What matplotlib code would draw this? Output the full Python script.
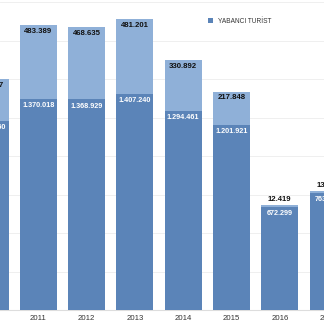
import matplotlib
matplotlib.use("Agg")
import matplotlib.pyplot as plt
import numpy as np

plt.rcParams['font.family'] = ['Liberation Sans', 'DejaVu Sans']

# veri (2010 ve 2017 kismen gorunuyor)
years = ['2010', '2011', '2012', '2013', '2014', '2015', '2016', '2017']
dark_vals = [1228560, 1370018, 1368929, 1407240, 1294461, 1201921, 672299, 763521]
light_vals = [272717, 483389, 468635, 481201, 330892, 217848, 12419, 13000]
legend_label = 'YABANCI TURİST'

DARK = '#5b84b8'
LIGHT = '#8fb0d8'

def fmt(v):
    return f"{v:,}".replace(',', '.')

fig = plt.figure(figsize=(3.24, 3.33), dpi=100)
ax = fig.add_axes([0, 0, 1, 1])

x = np.arange(len(years))
w = 0.766
b1 = ax.bar(x, dark_vals, width=w, color=DARK, zorder=2)
b2 = ax.bar(x, light_vals, width=w, bottom=dark_vals, color=LIGHT, zorder=2)

# grid
for g in np.arange(250000, 2000001, 250000):
    ax.axhline(g, color='#ececec', lw=0.6, zorder=0)
ax.axhline(0, color='#dddddd', lw=0.8, zorder=1)

for i in range(len(years)):
    total = dark_vals[i] + light_vals[i]
    # kucuk dilimlerde etiket cubugun ustune
    dy = -4.5 if light_vals[i] > 60000 else 3.8
    ax.annotate(fmt(light_vals[i]), (x[i], total), xytext=(0, dy),
                textcoords='offset points', ha='center', va='center',
                fontsize=5.6, fontweight='bold', color='#111111', zorder=3,
                annotation_clip=False)
    ax.annotate(fmt(dark_vals[i]), (x[i], dark_vals[i]), xytext=(0, -4.8),
                textcoords='offset points', ha='center', va='center',
                fontsize=5.2, fontweight='bold', color='white', zorder=3,
                annotation_clip=False)
    ax.text(x[i], -58500, years[i], ha='center', va='center',
            fontsize=5.6, color='#333333')

ax.legend([b1[0]], [legend_label], loc='upper left',
          bbox_to_anchor=(0.625, 0.965), frameon=False, fontsize=4.7,
          handlelength=0.7, handleheight=0.8, handletextpad=0.7,
          labelcolor='#333333')

ax.set_xlim(0.207, 6.915)
ax.set_ylim(-149500, 2015000)
ax.axis('off')

fig.savefig('out.png', dpi=100)
